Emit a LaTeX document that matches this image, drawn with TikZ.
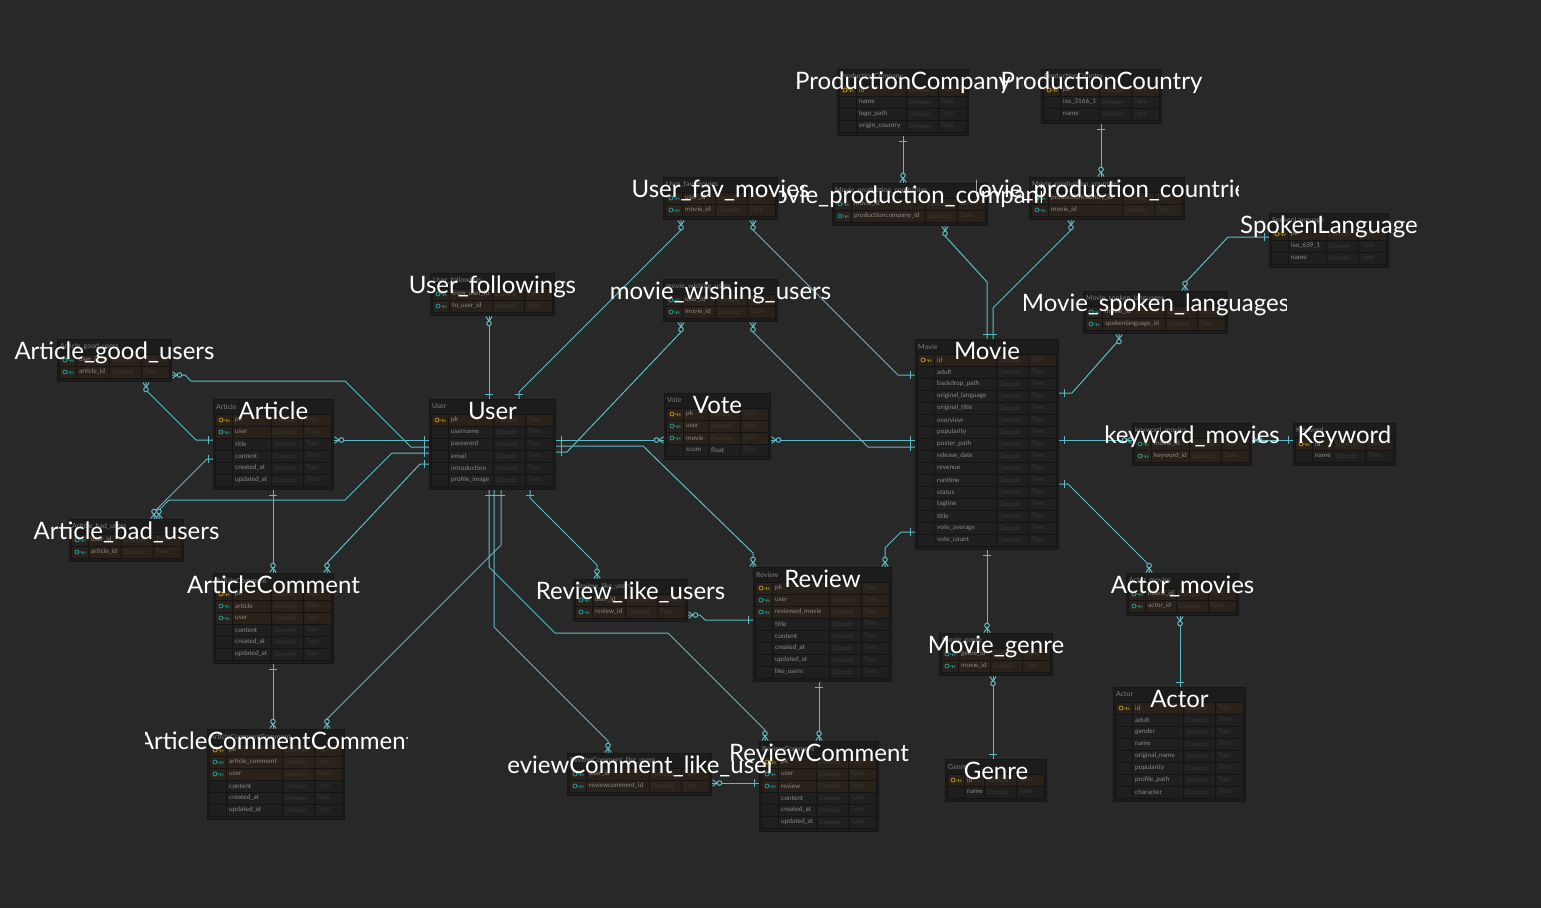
\documentclass[tikz,border=0pt]{standalone}
\usepackage{fontspec}
\setmainfont{Lato}
\usetikzlibrary{calc,decorations.markings}
\definecolor{canvasbg}{HTML}{282828}
\definecolor{boxfill}{HTML}{1C1C1C}
\definecolor{boxline}{HTML}{161616}
\definecolor{keyrowfill}{HTML}{2A2119}
\definecolor{plainrowfill}{HTML}{1F1F1F}
\definecolor{gridline}{HTML}{141414}
\definecolor{titlegray}{HTML}{7E7E7E}
\definecolor{rowgray}{HTML}{8A8A8A}
\definecolor{domgray}{HTML}{383838}
\definecolor{pkyellow}{HTML}{A5841F}
\definecolor{fkteal}{HTML}{1F8F95}
\definecolor{relcol}{HTML}{5CBCC5}
\newcommand{\erdkey}[3]{\draw[#3, line width=0.9pt] (#1+6,#2) circle (2pt) (#1+8,#2) -- (#1+14,#2) -- ++(0,2) (#1+11.5,#2) -- ++(0,2);}
\newcommand{\erdtable}[7]{%
  \node[tablebox, minimum width=#4pt, minimum height=18pt+12pt*#5, anchor=north west] (#1) at (#2,#3) {};
  \node[tabletitle, anchor=west] (#1-title) at (#2+3,#3+7.5) {#6};
  \foreach \k/\t [count=\i] in {#7} {%
    \pgfmathsetmacro{\ry}{#3+3+12*\i}%
    \def\rowfill{keyrowfill}%
    \if\k n\def\rowfill{plainrowfill}\fi
    \if\k v\def\rowfill{plainrowfill}\fi
    \path[fill=\rowfill, draw=gridline, line width=0.8pt] (#2+2,\ry) rectangle (#2+#4-2,\ry+12);
    \draw[gridline, line width=0.8pt] (#2+19,\ry) -- ++(0,12) (#2+#4-62,\ry) -- ++(0,12) (#2+#4-30,\ry) -- ++(0,12);
    \if\k p\erdkey{#2+2}{\ry+6}{pkyellow}\fi
    \if\k f\erdkey{#2+2}{\ry+6}{fkteal}\fi
    \node[rowtext, anchor=west] (#1-\i) at (#2+22,\ry+6) {\t};
    \if\k v\node[rowtext, anchor=west] (#1-\i-dom) at (#2+#4-59,\ry+6) {float};\else\node[domtext, anchor=west] (#1-\i-dom) at (#2+#4-59,\ry+6) {Domain};\fi
    \node[domtext, anchor=west] (#1-\i-type) at (#2+#4-27,\ry+6) {Type};
  }%
}
\tikzset{
  tablebox/.style={draw=boxline, fill=boxfill, line width=1pt, inner sep=0pt},
  tabletitle/.style={font=\fontsize{7}{8}\selectfont, text=titlegray, inner sep=0pt},
  rowtext/.style={font=\fontsize{6.5}{7}\selectfont, text=rowgray, inner sep=0pt},
  domtext/.style={font=\fontsize{6.5}{7}\selectfont\itshape, text=domgray, inner sep=0pt},
  biglabel/.style={font=\fontsize{24}{28}\selectfont, text=white, inner sep=0pt},
  rel/.style={draw=relcol, line width=1pt, line join=round, postaction={decorate, decoration={markings,
    mark=at position 0.5pt with {\draw[relcol, line width=1pt] (0pt,-3.2pt) -- (4.5pt,0pt) -- (0pt,3.2pt); \draw[relcol, line width=1pt, fill=canvasbg] (7pt,0pt) circle (2.3pt);},
    mark=at position -5pt with {\draw[relcol, line width=1pt] (0pt,-4pt) -- (0pt,4pt);}}}}
}
\begin{document}
\begin{tikzpicture}[x=1pt,y=-1pt]
  \fill[canvasbg] (0,0) rectangle (1541,908);
  \useasboundingbox (0,0) rectangle (1541,908);
  % tables
  \erdtable{prodcompany}{837}{69}{131}{4}{ProductionCompany}{p/id, n/name, n/logo\_path, n/origin\_country}
  \erdtable{prodcountry}{1041}{69}{120}{3}{ProductionCountry}{p/pk, n/iso\_3166\_1, n/name}
  \erdtable{moviecompanies}{832}{183}{155}{2}{Movie\_production\_companies}{f/movie\_id, f/productioncompany\_id}
  \erdtable{moviecountries}{1029}{177}{155}{2}{Movie\_production\_countries}{f/productioncountry\_id, f/movie\_id}
  \erdtable{favmovies}{663}{177}{114}{2}{User\_fav\_movies}{f/user\_id, f/movie\_id}
  \erdtable{wishing}{663}{279}{114}{2}{movie\_wishing\_users}{f/user\_id, f/movie\_id}
  \erdtable{followings}{430}{273}{124}{2}{User\_followings}{f/from\_user\_id, f/to\_user\_id}
  \erdtable{spokenlang}{1269}{213}{119}{3}{SpokenLanguage}{p/pk, n/iso\_639\_1, n/name}
  \erdtable{moviespoken}{1083}{291}{144}{2}{Movie\_spoken\_languages}{f/movie\_id, f/spokenlanguage\_id}
  \erdtable{movie}{915}{339}{143}{16}{Movie}{p/id, n/adult, n/backdrop\_path, n/original\_language, n/original\_title, n/overview, n/popularity, n/poster\_path, n/release\_date, n/revenue, n/runtime, n/status, n/tagline, n/title, n/vote\_average, n/vote\_count}
  \erdtable{user}{429}{399}{126}{6}{User}{p/pk, n/username, n/password, n/email, n/introduction, n/profile\_image}
  \erdtable{article}{213}{399}{120}{6}{Article}{p/pk, f/user, n/title, n/content, n/created\_at, n/updated\_at}
  \erdtable{vote}{664}{393}{106}{4}{Vote}{p/pk, f/user, f/movie, v/score}
  \erdtable{goodusers}{57}{339}{114}{2}{Article\_good\_users}{f/user\_id, f/article\_id}
  \erdtable{badusers}{69}{519}{114}{2}{Article\_bad\_users}{f/user\_id, f/article\_id}
  \erdtable{articlecomment}{213}{573}{120}{6}{ArticleComment}{p/pk, f/article, f/user, n/content, n/created\_at, n/updated\_at}
  \erdtable{articlecc}{207}{729}{137}{6}{ArticleCommentComment}{p/pk, f/article\_comment, f/user, n/content, n/created\_at, n/updated\_at}
  \erdtable{reviewlike}{573}{579}{114}{2}{Review\_like\_users}{f/user\_id, f/review\_id}
  \erdtable{review}{753}{567}{138}{8}{Review}{p/pk, f/user, f/reviewed\_movie, n/title, n/content, n/created\_at, n/updated\_at, n/like\_users}
  \erdtable{rclike}{567}{753}{144}{2}{ReviewComment\_like\_users}{f/user\_id, f/reviewcomment\_id}
  \erdtable{reviewcomment}{759}{741}{119}{6}{ReviewComment}{p/pk, f/user, f/review, n/content, n/created\_at, n/updated\_at}
  \erdtable{kwmovies}{1132}{423}{119}{2}{keyword\_movies}{f/movie\_id, f/keyword\_id}
  \erdtable{keyword}{1293}{423}{102}{2}{Keyword}{p/id, n/name}
  \erdtable{actormovies}{1126}{573}{112}{2}{Actor\_movies}{f/movie\_id, f/actor\_id}
  \erdtable{actor}{1113}{687}{132}{8}{Actor}{p/id, n/adult, n/gender, n/name, n/original\_name, n/popularity, n/profile\_path, n/character}
  \erdtable{moviegenre}{939}{633}{113}{2}{Movie\_genre}{f/genre\_id, f/movie\_id}
  \erdtable{genre}{945}{759}{101}{2}{Genre}{p/id, n/name}
  % relations, drawn from the many side to the one side
  \draw[rel] (moviecompanies.north -| 903,0) -- (prodcompany.south -| 903,0);
  \draw[rel] (moviecountries.north -| 1101,0) -- (prodcountry.south -| 1101,0);
  \draw[rel] (moviecompanies.south -| 945,0) -- (945,236) -- (987,282) -- (movie.north -| 987,0);
  \draw[rel] (moviecountries.south -| 1071,0) -- (1071,230) -- (993,308) -- (movie.north -| 993,0);
  \draw[rel] (moviespoken.south -| 1119,0) -- (1119,340) -- (1072,393) -- (movie.east |- 0,393);
  \draw[rel] (moviespoken.north -| 1185,0) -- (1185,283) -- (1228,237) -- (spokenlang.west |- 0,237);
  \draw[rel] (kwmovies.west |- 0,440) -- (movie.east |- 0,440);
  \draw[rel] (kwmovies.east |- 0,440) -- (keyword.west |- 0,440);
  \draw[rel] (actormovies.north -| 1149,0) -- (1149,565) -- (1068,484) -- (movie.east |- 0,484);
  \draw[rel] (actormovies.south -| 1180,0) -- (actor.north -| 1180,0);
  \draw[rel] (moviegenre.north -| 987,0) -- (movie.south -| 987,0);
  \draw[rel] (moviegenre.south -| 993,0) -- (genre.north -| 993,0);
  \draw[rel] (review.north -| 885,0) -- (885,548) -- (901,532) -- (movie.west |- 0,532);
  \draw[rel] (review.north -| 753,0) -- (753,553) -- (643,446) -- (user.east |- 0,446);
  \draw[rel] (reviewlike.east |- 0,615) -- (700,615) -- (705,620) -- (review.west |- 0,620);
  \draw[rel] (reviewcomment.north -| 819,0) -- (review.south -| 819,0);
  \draw[rel] (rclike.east |- 0,783) -- (reviewcomment.west |- 0,783);
  \draw[rel] (reviewlike.north -| 597,0) -- (597,565) -- (530,498) -- (user.south -| 530,0);
  \draw[rel] (rclike.north -| 608,0) -- (608,741) -- (494,627) -- (user.south -| 494,0);
  \draw[rel] (reviewcomment.north -| 765,0) -- (765,730) -- (668,633) -- (555,633) -- (489,567) -- (user.south -| 489,0);
  \draw[rel] (favmovies.south -| 753,0) -- (753,230) -- (898,375) -- (movie.west |- 0,375);
  \draw[rel] (favmovies.south -| 681,0) -- (681,230) -- (519,392) -- (user.north -| 519,0);
  \draw[rel] (wishing.south -| 753,0) -- (753,332) -- (868,447) -- (movie.west |- 0,447);
  \draw[rel] (wishing.south -| 681,0) -- (681,332) -- (567,452) -- (user.east |- 0,452);
  \draw[rel] (followings.south -| 489,0) -- (user.north -| 489,0);
  \draw[rel] (vote.west |- 0,440) -- (user.east |- 0,440);
  \draw[rel] (vote.east |- 0,440) -- (movie.west |- 0,440);
  \draw[rel] (article.east |- 0,440) -- (user.west |- 0,440);
  \draw[rel] (goodusers.east |- 0,375) -- (185,375) -- (191,381) -- (345,381) -- (411,447) -- (user.west |- 0,447);
  \draw[rel] (goodusers.south -| 146,0) -- (146,390) -- (196,440) -- (article.west |- 0,440);
  \draw[rel] (badusers.north -| 154,0) -- (154,512) -- (207,459) -- (article.west |- 0,459);
  \draw[rel] (badusers.north -| 159,0) -- (159,510) -- (169,500) -- (345,500) -- (392,453) -- (user.west |- 0,453);
  \draw[rel] (articlecomment.north -| 273,0) -- (article.south -| 273,0);
  \draw[rel] (articlecomment.north -| 327,0) -- (327,563) -- (420,464) -- (user.west |- 0,464);
  \draw[rel] (articlecc.north -| 273,0) -- (articlecomment.south -| 273,0);
  \draw[rel] (articlecc.north -| 327,0) -- (327,719) -- (501,545) -- (user.south -| 501,0);
  % big table names, cut to the label window
  \foreach \n/\l in {prodcompany/ProductionCompany, prodcountry/ProductionCountry, moviecompanies/Movie\_production\_companies, moviecountries/Movie\_production\_countries, favmovies/User\_fav\_movies, wishing/movie\_wishing\_users, followings/User\_followings, spokenlang/SpokenLanguage, moviespoken/Movie\_spoken\_languages, movie/Movie, user/User, article/Article, vote/Vote, goodusers/Article\_good\_users, badusers/Article\_bad\_users, articlecomment/ArticleComment, articlecc/ArticleCommentComment, reviewlike/Review\_like\_users, review/Review, rclike/ReviewComment\_like\_users, reviewcomment/ReviewComment, kwmovies/keyword\_movies, keyword/Keyword, actormovies/Actor\_movies, actor/Actor, moviegenre/Movie\_genre, genre/Genre} {
    \begin{scope}
      \clip ($(\n.north)+(-131,-25)$) rectangle ($(\n.north)+(131,32)$);
      \node[biglabel, anchor=base] (\n-label) at ($(\n.north)+(0,20)$) {\l};
    \end{scope}
  }
\end{tikzpicture}
\end{document}
